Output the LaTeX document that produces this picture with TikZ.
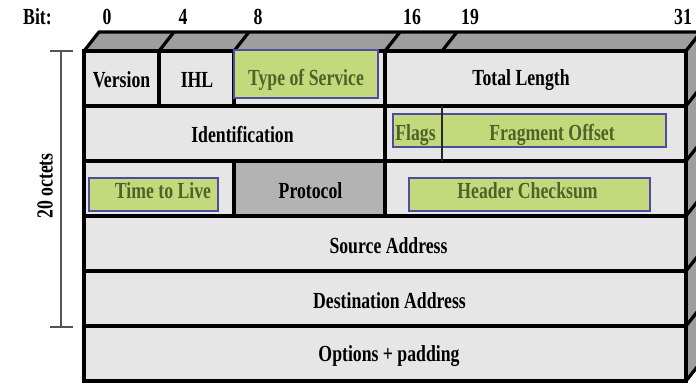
\documentclass[tikz,border=0pt]{standalone}
\usepackage{fontspec}
\usepackage{graphicx}
\setmainfont{Liberation Serif}
\definecolor{cellgray}{HTML}{E6E6E6}
\definecolor{darkcell}{HTML}{B3B3B3}
\definecolor{facegray}{HTML}{9E9E9E}
\definecolor{hlfill}{HTML}{C4D97C}
\definecolor{hledge}{HTML}{4D4DA0}
\definecolor{hltext}{HTML}{4F6228}
\definecolor{bracket}{HTML}{555555}
\newcommand{\fld}[1]{\scalebox{0.77}[1]{#1}}
\tikzset{
  cellbox/.style={draw=black, line width=3.2pt, fill=cellgray},
  face/.style={draw=black, line width=3.2pt, fill=facegray, line join=round},
  hlbox/.style={draw=hledge, line width=1.4pt, fill=hlfill},
  lbl/.style={inner sep=0pt, font=\fontsize{23}{25}\selectfont\bfseries},
  hllbl/.style={lbl, text=hltext},
}
\begin{document}
\begin{tikzpicture}[x=1pt, y=-1pt]
\useasboundingbox (0,0) rectangle (696,383);
\clip (0,0) rectangle (696,383);

% top face of the header block
\path[face] (84,51) -- (99,32) -- (701,32) -- (686,51) -- cycle;
\foreach \c in {159,234,385,442}
  \draw[line width=3.2pt] (\c,51) -- (\c+15,32);
% right side face
\path[face] (686,51) -- (701,32) -- (701,362) -- (686,381) -- cycle;
\foreach \r in {106,161,216,271,326}
  \draw[line width=3.2pt] (686,\r) -- (701,\r-19);

% rows of the header
\path[cellbox] (84,51) rectangle (159,106);
\path[cellbox] (159,51) rectangle (234,106);
\path[cellbox] (234,51) rectangle (385,106);
\path[cellbox] (385,51) rectangle (686,106);
\path[cellbox] (84,106) rectangle (385,161);
\path[cellbox] (385,106) rectangle (686,161);
\path[cellbox] (84,161) rectangle (234,216);
\path[cellbox, fill=darkcell] (234,161) rectangle (385,216);
\path[cellbox] (385,161) rectangle (686,216);
\path[cellbox] (84,216) rectangle (686,271);
\path[cellbox] (84,271) rectangle (686,326);
\path[cellbox] (84,326) rectangle (686,381);

% highlighted fields
\path[hlbox] (234,50) rectangle (378,98);
\path[hlbox] (393,114) rectangle (666,147);
\path[hlbox] (409,178) rectangle (650,211);
\path[hlbox] (89,178) rectangle (218,211);
\draw[line width=2pt, black!85] (442,106) -- (442,161);

% field names
\node[lbl] (ver) at (121.5,80) {\fld{Version}};
\node[lbl] (ihl) at (197,80) {\fld{IHL}};
\node[hllbl] (tos) at (306,80) {\fld{Type of Service}};
\node[lbl] (tlen) at (521,80) {\fld{Total Length}};
\node[lbl] (ident) at (242.5,135) {\fld{Identification}};
\node[hllbl] (flags) at (415.5,135) {\fld{Flags}};
\node[hllbl] (frag) at (552,135) {\fld{Fragment Offset}};
\node[hllbl] (ttl) at (163,191) {\fld{Time to Live}};
\node[lbl] (proto) at (310.5,191) {\fld{Protocol}};
\node[hllbl] (hcs) at (527.5,191) {\fld{Header Checksum}};
\node[lbl] (src) at (388.5,246) {\fld{Source Address}};
\node[lbl] (dst) at (389.5,301) {\fld{Destination Address}};
\node[lbl] (opt) at (389,356) {\fld{Options + padding}};

% bit positions
\node[lbl] (bit) at (37.5,17) {\fld{Bit:}};
\node[lbl] (b0) at (107,17) {\fld{0}};
\node[lbl] (b4) at (183,17) {\fld{4}};
\node[lbl] (b8) at (258,17) {\fld{8}};
\node[lbl] (b16) at (412,17) {\fld{16}};
\node[lbl] (b19) at (470,17) {\fld{19}};
\node[lbl] (b31) at (683,17) {\fld{31}};

% length bracket
\coordinate (brtop) at (61,51);
\coordinate (brbot) at (61,327);
\draw[bracket, line width=1.4pt] (brtop) -- (brbot);
\draw[bracket, line width=1.4pt] ([xshift=-11pt]brtop) -- ([xshift=12pt]brtop);
\draw[bracket, line width=1.4pt] ([xshift=-11pt]brbot) -- ([xshift=12pt]brbot);
\node[lbl, rotate=90] (octets) at (45,186) {\fld{20 octets}};
\end{tikzpicture}
\end{document}
